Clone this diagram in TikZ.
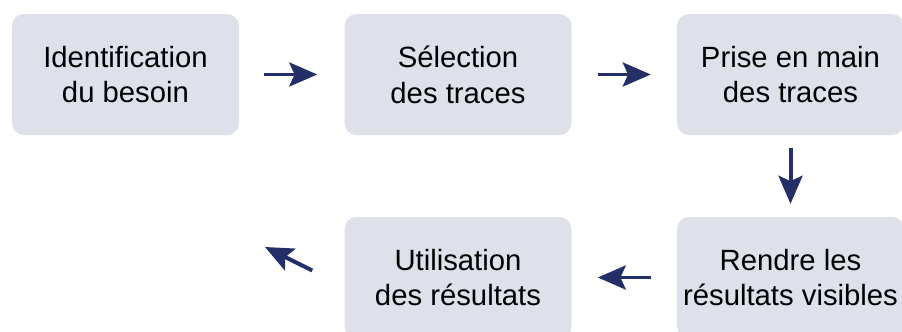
\documentclass[tikz,border=0pt]{standalone}
\usepackage{fontspec}
\setmainfont{Liberation Sans}
\usetikzlibrary{arrows.meta}
\definecolor{stepfill}{RGB}{222,224,234}
\definecolor{flowblue}{RGB}{36,47,104}
\begin{document}
\begin{tikzpicture}[x=0.3mm,y=-0.3mm,
  stepbox/.style={rectangle,rounded corners=3.6mm,fill=stepfill,minimum width=68.1mm,minimum height=36.3mm,align=center,font=\fontsize{25}{30.5}\selectfont},
  flow/.style={draw=flowblue,line width=3.4pt,-{Stealth[length=8.4mm,width=7.2mm,inset=1.6mm]}}]
\useasboundingbox (0,0) rectangle (902,331);
\node[stepbox] (need) at (125.5,74.5) {Identification\\du besoin};
\node[stepbox] (select) at (458,74.5) {Sélection\\des traces};
\node[stepbox] (handle) at (790.5,74.5) {Prise en main\\des traces};
\draw[flow,shorten <=7.5mm,shorten >=8.1mm] (need)--(select);
\draw[flow,shorten <=7.8mm,shorten >=7.8mm] (select)--(handle);
\node[stepbox] (show) at (790.5,277.5) {Rendre les\\résultats visibles};
\draw[flow,shorten <=3.9mm,shorten >=3.9mm] (handle)--(show);
\node[stepbox] (use) at (458,277.5) {Utilisation\\des résultats};
\draw[flow,shorten <=7.8mm,shorten >=7.8mm] (show)--(use);
\coordinate (loop) at (265,247);
\draw[flow] (use.west) ++(-32,-7)--(loop);
\end{tikzpicture}
\end{document}
